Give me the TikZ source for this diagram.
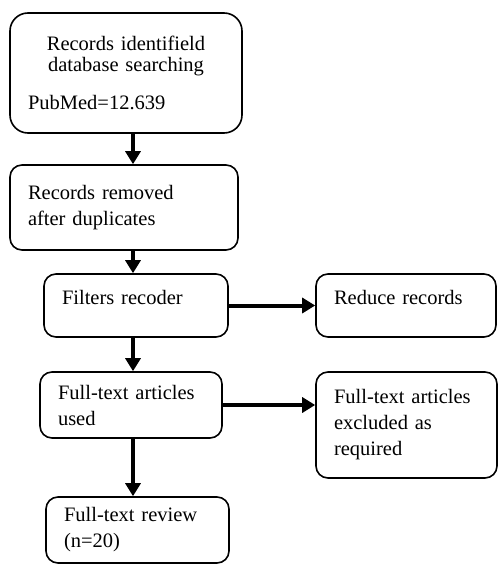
\documentclass[tikz,border=0pt]{standalone}
\usepackage{fontspec}
\setmainfont{Liberation Serif}
\usetikzlibrary{arrows.meta}

\tikzstyle{box}=[draw, rectangle, rounded corners=12pt, line width=1.6pt,
                 align=left, inner xsep=18pt, inner ysep=0pt,
                 font=\fontsize{20.5}{26}\selectfont]
\tikzstyle{arrow}=[line width=4pt, -{Triangle[width=15pt,length=13pt]}]

\begin{document}
\begin{tikzpicture}[x=1pt, y=1pt]
  \useasboundingbox (0, 0) rectangle (498, -565);

  \node[box, rounded corners=18pt, text width=196, minimum height=120]
    (records) at (126, -73)
    {{\centering\fontsize{20.5}{20.5}\selectfont Records identifield\\
      database searching\par}\vspace{12pt}PubMed=12.639};
  \node[box, text width=192, minimum height=85] (removed) at (124, -207.5)
    {Records removed\\after duplicates};
  \node[box, text width=148, minimum height=63, text depth=16pt]
    (filters) at (136, -305.5) {Filters recoder};
  \node[box, text width=144, minimum height=63, text depth=16pt]
    (reduce) at (406, -305.5) {Reduce records};
  \node[box, text width=146, minimum height=66] (used) at (131, -405)
    {Full-text articles\\used};
  \node[box, text width=145, minimum height=106] (excluded) at (406.5, -425)
    {Full-text articles\\excluded as\\required};
  \node[box, text width=147, minimum height=66] (review) at (137.5, -530)
    {Full-text review\\(n=20)};

  \coordinate (spine) at (133, 0);

  \draw[arrow] (records.south -| spine) -- (removed.north -| spine);
  \draw[arrow] (removed.south -| spine) -- (filters.north -| spine);
  \draw[arrow] (filters.south -| spine) -- (used.north -| spine);
  \draw[arrow] (used.south -| spine) -- (review.north -| spine);

  \draw[arrow] (filters.east) -- (reduce.west);
  \draw[arrow] (used.east) -- (used.east -| excluded.west);
\end{tikzpicture}
\end{document}
